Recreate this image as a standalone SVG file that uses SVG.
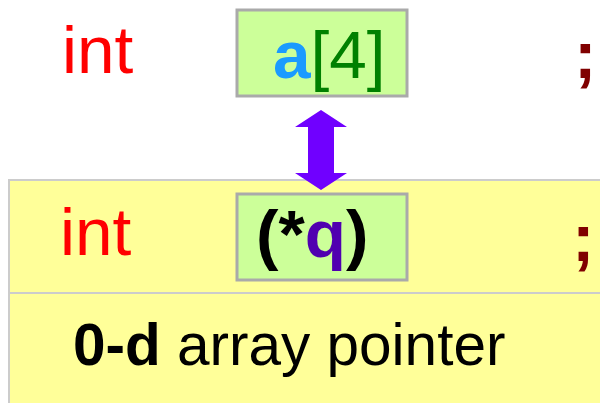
<svg xmlns="http://www.w3.org/2000/svg" width="600" height="403" viewBox="0 0 600 403">
<style>
.code{font-family:"Liberation Sans",Arial,sans-serif;font-size:67.5px}
.kw{fill:#ff0000}
.semi{fill:#800000;font-weight:bold}
.box{fill:#ccff99;stroke:#aaaaaa;stroke-width:3}
.panel{fill:#ffff99;stroke:#cccccc;stroke-width:2}
</style>
<rect width="600" height="403" fill="#ffffff"/>
<g id="panel">
<rect class="panel" x="9" y="180" width="600" height="240"/>
<line x1="9" y1="293" x2="600" y2="293" stroke="#cccccc" stroke-width="2"/>
</g>
<g id="top-row">
<text class="code kw" x="62" y="73">int</text>
<rect class="box" x="237" y="10" width="170" height="86"/>
<text class="code" x="273" y="78"><tspan fill="#1a9bff" font-weight="bold">a</tspan><tspan fill="#008000">[4]</tspan></text>
<text class="code semi" x="574" y="78">;</text>
</g>
<g id="bottom-row">
<text class="code kw" x="60" y="255">int</text>
<rect class="box" x="237" y="194" width="170" height="86"/>
<text class="code" x="256" y="257" font-weight="bold"><tspan fill="#000000">(*</tspan><tspan fill="#5000b0">q</tspan><tspan fill="#000000">)</tspan></text>
<text class="code semi" x="572" y="261">;</text>
</g>
<g id="description">
<text x="73" y="365" font-family="Liberation Sans,Arial,sans-serif" font-size="58.5" fill="#000000"><tspan font-weight="bold">0-d</tspan> array pointer</text>
</g>
<g id="connectors">
<polygon points="321,110 347,127 334,127 334,173 347,173 321,190 295,173 308,173 308,127 295,127" fill="#7000ff"/>
</g>
</svg>
